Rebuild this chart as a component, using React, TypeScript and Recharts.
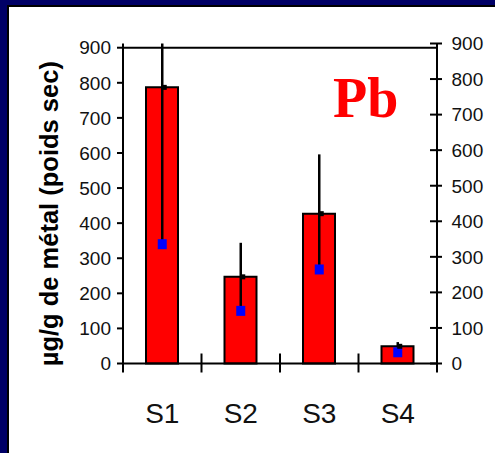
import {
  Bar, ComposedChart, ErrorBar, ReferenceLine, Scatter, XAxis, YAxis,
} from "recharts";

const categories = ["S1", "S2", "S3", "S4"];
const meanValues = [787, 247, 427, 49];
const minValues = [340, 150, 268, 32];
const maxValues = [912, 344, 596, 61];
const yTicks = [0, 100, 200, 300, 400, 500, 600, 700, 800, 900];

const data = categories.map((name, i) => ({
  name,
  mean: meanValues[i],
  low: minValues[i],
  range: [0, maxValues[i] - minValues[i]],
}));

const FONT = "Arial, 'Liberation Sans', Helvetica, sans-serif";

function BlueSquare(p: any) {
  return <rect x={p.cx - 4.5} y={p.cy - 5} width={9} height={10} fill="#0000ff" />;
}

function BlackSquare(p: any) {
  return <rect x={p.cx - 0.5} y={p.cy - 2.5} width={5} height={5} fill="#000" />;
}

function CategoryTick({ x, y, payload, index }: any) {
  const half = payload?.offset || 39.25;
  return (
    <g>
      <line x1={x - half} x2={x - half} y1={y - 10} y2={y + 9} stroke="#000" strokeWidth={2} />
      {index === categories.length - 1 && (
        <line x1={x + half} x2={x + half} y1={y - 10} y2={y + 9} stroke="#000" strokeWidth={2} />
      )}
      <text x={x} y={y + 59.5} textAnchor="middle" fontSize={28} fontFamily={FONT} fill="#111">
        {payload.value}
      </text>
    </g>
  );
}

function RightTick({ x, y, payload }: any) {
  return (
    <g>
      <line x1={x - 7} x2={x + 5} y1={y} y2={y} stroke="#000" strokeWidth={2} />
      <text x={x + 14.5} y={y} dy="0.36em" textAnchor="start" fontSize={19} fontFamily={FONT} fill="#111">
        {payload.value}
      </text>
    </g>
  );
}

function YTitle() {
  return (
    <text
      x={58} y={213.7} transform="rotate(-90 58 213.7)" textAnchor="middle"
      fontSize={25.5} fontWeight="bold" fontFamily={FONT} fill="#000"
    >
      µg/g de métal (poids sec)
    </text>
  );
}

export default function App() {
  return (
    <div style={{
      position: "absolute", left: 0, top: 0, width: 495, height: 453,
      overflow: "hidden", background: "#000066",
    }}>
      <div style={{
        position: "absolute", left: 7, top: 5, width: 500, height: 460,
        background: "#fff", border: "2px solid #000",
      }} />
      <div style={{ position: "absolute", left: 0, top: 0 }}>
        <ComposedChart width={495} height={453} data={data} margin={{ top: 43.5, right: 0, bottom: 0, left: 0 }}>
          <XAxis
            dataKey="name" height={89.5} tickLine={false} tickSize={0} tickMargin={0}
            axisLine={{ stroke: "#000", strokeWidth: 2 }} tick={<CategoryTick />} interval={0}
          />
          <YAxis
            yAxisId="left" width={123} domain={() => [0, 900]} ticks={yTicks} interval={0}
            tickSize={6} tickMargin={6}
            axisLine={{ stroke: "#000", strokeWidth: 2 }} tickLine={{ stroke: "#000", strokeWidth: 2 }}
            tick={{ fill: "#111", fontSize: 19, fontFamily: FONT }}
            label={{ content: <YTitle /> }}
          />
          <YAxis
            yAxisId="right" orientation="right" width={58} domain={[0, 900]} allowDataOverflow
            ticks={yTicks} interval={0} tickSize={0} tickMargin={0} tickLine={false}
            axisLine={{ stroke: "#000", strokeWidth: 2 }} tick={<RightTick />}
          />
          <ReferenceLine yAxisId="left" y={900} stroke="#000" strokeWidth={2} />
          <Bar
            yAxisId="left" dataKey="mean" barSize={32} fill="#ff0000"
            stroke="#000" strokeWidth={2} isAnimationActive={false}
          />
          <Scatter yAxisId="left" dataKey="low" shape={<BlueSquare />} isAnimationActive={false}>
            <ErrorBar dataKey="range" direction="y" width={0} stroke="#000" strokeWidth={2.5} isAnimationActive={false} />
          </Scatter>
          <Scatter yAxisId="left" dataKey="mean" shape={<BlackSquare />} isAnimationActive={false} />
        </ComposedChart>
      </div>
      <svg width={495} height={453} style={{ position: "absolute", left: 0, top: 0, pointerEvents: "none" }}>
        <text x={333} y={117} fontSize={56} fontWeight="bold" fontFamily="'Liberation Serif', 'Times New Roman', serif" fill="#ff0000">
          Pb
        </text>
      </svg>
    </div>
  );
}
